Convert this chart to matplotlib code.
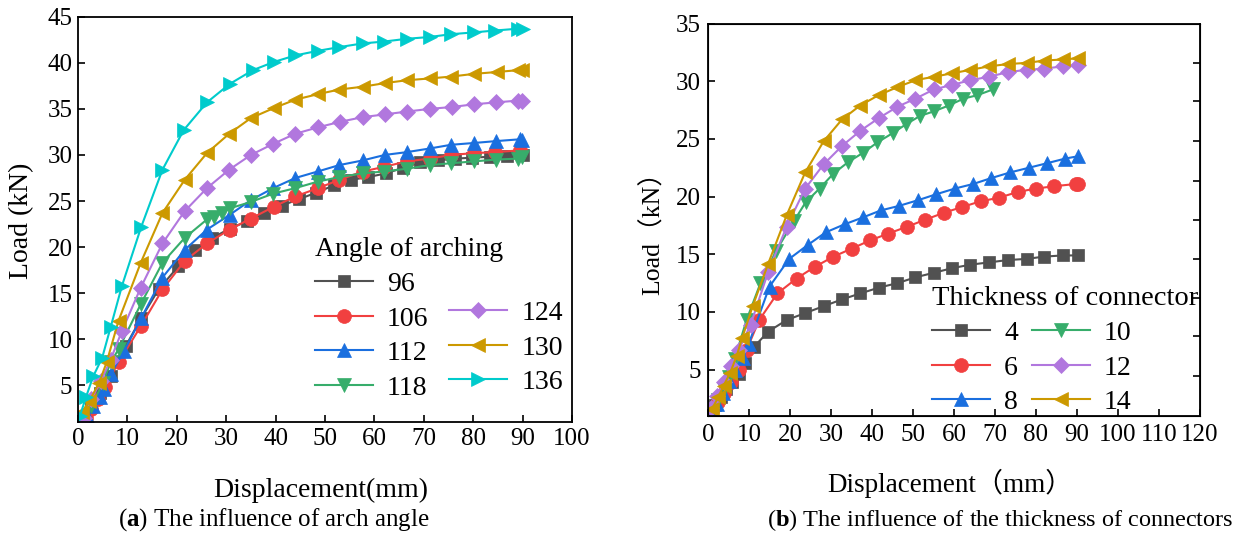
import matplotlib
matplotlib.use("Agg")
import matplotlib.pyplot as plt

plt.rcParams["font.family"] = ["Liberation Serif", "Noto Sans CJK SC"]
plt.rcParams["mathtext.fontset"] = "custom"
plt.rcParams["mathtext.rm"] = "Liberation Serif"
plt.rcParams["mathtext.bf"] = "Liberation Serif:bold"

# ---- (a) load-displacement for different arch angles ----
angle_labels = ["96", "106", "112", "118", "124", "130", "136"]

x_96 = [0.5, 1.2, 2.7, 4.4, 6.6, 9.7, 12.8, 16.3, 20.3, 23.7, 27.2, 30.7, 34.2, 37.7, 41.2,
        44.7, 48.2, 51.8, 55.3, 58.8, 62.3, 65.8, 69.3, 72.8, 76.3, 79.8, 83.3, 86.8, 90.0]
y_96 = [1.0, 1.5, 2.8, 4.2, 6.0, 9.3, 12.3, 15.4, 17.9, 19.7, 21.0, 22.0, 22.8, 23.7, 24.5,
        25.2, 25.9, 26.7, 27.3, 27.6, 28.0, 28.6, 29.2, 29.4, 29.6, 29.7, 29.8, 29.9, 30.0]

x_106 = [0.4, 1.6, 2.7, 4.1, 5.4, 8.2, 12.7, 17.1, 21.6, 26.1, 30.7, 35.0, 39.7, 44.0, 48.6,
         52.9, 57.6, 61.9, 66.5, 71.2, 75.5, 80.2, 84.4, 89.5]
y_106 = [1.1, 1.5, 2.4, 3.5, 4.8, 7.5, 11.4, 15.4, 18.5, 20.4, 21.9, 23.1, 24.4, 25.5, 26.4,
         27.3, 28.2, 28.7, 29.3, 29.6, 30.0, 30.2, 30.3, 30.5]

x_112 = [0.5, 1.8, 3.1, 4.4, 5.2, 6.6, 9.3, 12.8, 17.1, 21.6, 26.1, 30.7, 35.0, 39.5, 44.0,
         48.5, 52.9, 57.6, 62.1, 66.5, 71.2, 75.5, 80.2, 84.6, 89.5, 89.9]
y_112 = [1.1, 1.7, 2.8, 3.7, 4.6, 6.2, 8.7, 12.3, 16.7, 19.7, 21.9, 23.5, 25.1, 26.4, 27.5,
         28.2, 28.9, 29.4, 30.0, 30.3, 30.7, 31.1, 31.3, 31.5, 31.7, 31.6]

x_118 = [0.8, 2.7, 5.1, 6.6, 8.2, 12.7, 17.1, 21.6, 26.1, 27.6, 29.2, 30.7, 35.0, 39.5, 44.0,
         48.5, 52.9, 57.6, 61.9, 66.5, 71.2, 75.5, 80.2, 84.6, 89.1, 89.9]
y_118 = [1.4, 2.8, 5.3, 7.5, 8.9, 13.8, 18.3, 21.0, 23.0, 23.3, 23.7, 24.2, 24.9, 25.8, 26.4,
         27.1, 27.6, 28.0, 28.2, 28.5, 28.9, 29.1, 29.3, 29.5, 29.6, 29.8]

x_124 = [1.2, 2.7, 4.7, 6.6, 8.9, 12.7, 17.1, 21.6, 26.1, 30.6, 35.0, 39.5, 44.0, 48.6, 53.1,
         57.6, 62.1, 66.5, 71.2, 75.7, 80.2, 84.6, 89.1, 89.9]
y_124 = [1.5, 3.5, 5.5, 7.8, 10.9, 15.6, 20.4, 23.9, 26.4, 28.4, 30.0, 31.2, 32.3, 33.0, 33.6,
         34.1, 34.4, 34.7, 35.0, 35.2, 35.5, 35.7, 35.9, 35.9]

x_130 = [0.8, 2.3, 4.3, 5.8, 8.2, 12.7, 17.1, 21.6, 26.1, 30.6, 35.0, 39.7, 44.0, 48.6, 52.9,
         57.6, 62.2, 66.5, 71.2, 75.5, 80.2, 84.8, 89.1, 89.9]
y_130 = [2.1, 3.3, 5.3, 7.5, 12.0, 18.3, 23.7, 27.3, 30.2, 32.3, 34.0, 35.1, 36.0, 36.6, 37.1,
         37.4, 37.8, 38.1, 38.3, 38.5, 38.8, 39.0, 39.2, 39.2]

x_136 = [0.4, 1.6, 3.1, 4.9, 6.6, 8.9, 12.8, 17.1, 21.4, 26.1, 30.7, 35.4, 39.7, 44.0, 48.6,
         52.9, 57.6, 61.9, 66.5, 71.2, 75.5, 80.2, 84.4, 89.1, 90.0]
y_136 = [1.7, 3.7, 6.0, 8.0, 11.3, 15.8, 22.2, 28.4, 32.7, 35.7, 37.7, 39.2, 40.1, 40.8, 41.3,
         41.7, 42.1, 42.3, 42.6, 42.8, 43.1, 43.3, 43.5, 43.7, 43.7]

# ---- (b) load-displacement for different connector thicknesses ----
thick_labels = ["4", "6", "8", "10", "12", "14"]

x_t4 = [0.6, 1.7, 3.2, 4.4, 5.8, 7.5, 9.0, 11.3, 14.7, 19.2, 23.7, 28.2, 32.8, 37.1, 41.6,
        46.2, 50.6, 55.1, 59.6, 64.0, 68.6, 73.1, 77.7, 82.0, 86.5, 90.2]
y_t4 = [1.3, 1.9, 2.6, 3.3, 3.9, 4.6, 5.6, 7.0, 8.3, 9.3, 9.9, 10.5, 11.1, 11.6, 12.1,
        12.5, 13.0, 13.4, 13.8, 14.1, 14.3, 14.5, 14.6, 14.8, 14.9, 14.9]

x_t6 = [1.0, 2.5, 3.9, 5.6, 7.5, 9.4, 12.5, 16.9, 21.6, 26.0, 30.6, 35.1, 39.5, 44.0, 48.6,
        53.0, 57.5, 62.0, 66.5, 70.9, 75.5, 79.9, 84.4, 89.7, 90.2]
y_t6 = [1.4, 2.2, 3.0, 3.9, 5.0, 6.7, 9.3, 11.6, 12.9, 13.9, 14.8, 15.5, 16.2, 16.8, 17.4,
        18.0, 18.6, 19.1, 19.6, 19.9, 20.4, 20.7, 20.9, 21.1, 21.1]

x_t8 = [0.6, 2.2, 3.7, 5.1, 6.7, 8.5, 9.9, 15.0, 19.8, 24.3, 28.7, 33.3, 37.8, 42.1, 46.6,
        51.3, 55.6, 60.2, 64.7, 69.0, 73.7, 78.2, 82.7, 87.1, 90.2]
y_t8 = [1.3, 2.0, 3.0, 4.0, 5.0, 6.0, 7.2, 12.2, 14.6, 15.8, 16.9, 17.6, 18.2, 18.8, 19.2,
        19.7, 20.2, 20.7, 21.1, 21.6, 22.1, 22.5, 22.9, 23.3, 23.5]

x_t10 = [0.8, 2.5, 3.8, 5.1, 6.5, 9.4, 12.8, 16.6, 21.0, 23.8, 27.2, 30.6, 34.2, 37.8, 41.3,
         45.0, 48.4, 51.7, 55.1, 58.7, 62.3, 65.7, 69.5]
y_t10 = [1.6, 2.4, 3.3, 4.4, 5.9, 9.3, 12.5, 15.3, 17.9, 19.5, 20.7, 22.0, 23.0, 23.8, 24.7,
         25.5, 26.3, 27.0, 27.4, 27.9, 28.5, 28.8, 29.3]

x_t12 = [0.8, 2.2, 3.8, 5.6, 7.5, 10.4, 14.7, 19.2, 23.7, 28.2, 32.7, 37.1, 41.6, 46.2, 50.6,
         55.1, 59.6, 64.0, 68.6, 73.1, 77.7, 82.0, 86.5, 90.2]
y_t12 = [1.7, 2.7, 3.9, 5.3, 6.7, 8.9, 13.5, 17.4, 20.7, 22.8, 24.4, 25.7, 26.8, 27.8, 28.5,
         29.3, 29.7, 30.1, 30.4, 30.8, 31.0, 31.1, 31.3, 31.4]

x_t14 = [1.0, 2.5, 3.8, 5.4, 7.0, 8.3, 10.9, 14.7, 19.2, 23.7, 28.2, 32.7, 37.1, 41.6, 46.2,
         50.6, 55.1, 59.6, 64.0, 68.6, 73.1, 77.7, 82.0, 86.5, 90.2]
y_t14 = [1.6, 2.6, 3.6, 4.7, 6.2, 7.7, 10.5, 14.2, 18.4, 22.1, 24.8, 26.7, 27.9, 28.8, 29.5,
         30.1, 30.4, 30.7, 31.0, 31.3, 31.5, 31.6, 31.8, 31.9, 32.0]

# tick marks on the right spine of panel (b)
right_ticks_b = [4.45, 7.9, 11.25, 14.6, 18.0, 21.4, 24.8, 28.3, 31.6]

colors = ["#515151", "#F14040", "#1A6FDF", "#37AD6B", "#B177DE", "#CC9900", "#00CBCC"]
markers = ["s", "o", "^", "v", "D", "<", ">"]
msizes = [9, 10, 10, 10, 8, 10, 10]

angle_x = [x_96, x_106, x_112, x_118, x_124, x_130, x_136]
angle_y = [y_96, y_106, y_112, y_118, y_124, y_130, y_136]
thick_x = [x_t4, x_t6, x_t8, x_t10, x_t12, x_t14]
thick_y = [y_t4, y_t6, y_t8, y_t10, y_t12, y_t14]

W, H = 1237, 544
fig = plt.figure(figsize=(W / 100, H / 100), dpi=100)

ax1 = fig.add_axes([78 / W, 1 - 422.2 / H, 494 / W, 405.5 / H])
ax2 = fig.add_axes([708 / W, 1 - 415.7 / H, 492 / W, 392 / H])


def style_axes(ax, xpad, ypad):
    for s in ax.spines.values():
        s.set_linewidth(1.3)
    ax.tick_params(direction="in", length=5, width=1.2, labelsize=18, top=False, right=False)
    ax.tick_params(axis="x", pad=xpad)
    ax.tick_params(axis="y", pad=ypad)


h1 = []
for xs, ys, c, m, ms in zip(angle_x, angle_y, colors, markers, msizes):
    ln, = ax1.plot(xs, ys, color=c, marker=m, markersize=ms, linewidth=1.5,
                   markeredgewidth=0.5)
    h1.append(ln)
ax1.set_xlim(0, 100)
ax1.set_ylim(1, 45)
ax1.set_xticks(range(0, 101, 10))
ax1.set_yticks(range(5, 46, 5))
style_axes(ax1, 4, 4)

leg_kw = dict(frameon=False, fontsize=20, handlelength=2.1, handletextpad=0.5,
              labelspacing=0.33, borderpad=0, borderaxespad=0, loc="upper left")
leg_a1 = ax1.legend(h1[:4], angle_labels[:4], title="Angle of arching", title_fontsize=20,
                    alignment="left", bbox_to_anchor=(0.479, 0.456), **leg_kw)
ax1.add_artist(leg_a1)
ax1.legend(h1[4:], angle_labels[4:], bbox_to_anchor=(0.751, 0.30), **leg_kw)

h2 = []
for xs, ys, c, m, ms in zip(thick_x, thick_y, colors, markers, msizes):
    ln, = ax2.plot(xs, ys, color=c, marker=m, markersize=ms, linewidth=1.5,
                   markeredgewidth=0.5)
    h2.append(ln)
ax2.set_xlim(0, 120)
ax2.set_ylim(1, 35)
ax2.set_xticks(range(0, 121, 10))
ax2.set_yticks(range(5, 36, 5))
style_axes(ax2, 6, 5)

ax2r = ax2.twinx()
ax2r.set_ylim(1, 35)
ax2r.set_yticks(right_ticks_b)
ax2r.tick_params(direction="in", length=5, width=1.2, labelright=False)

ax2.legend(h2, thick_labels, ncol=2, title="Thickness of connector", title_fontsize=20.5,
           alignment="left", columnspacing=0.5, bbox_to_anchor=(0.455, 0.33), **leg_kw)

# axis labels and captions
fig.text(22 / W, 1 - 221 / H, "Load (kN)", rotation=90, fontsize=20, ha="center", va="center")
fig.text(321 / W, 1 - 490 / H, "Displacement(mm)", fontsize=20, ha="center", va="center")
fig.text(653 / W, 1 - 227 / H, "Load（kN）", rotation=90, fontsize=18.5, ha="center", va="center")
fig.text(950 / W, 1 - 483 / H, "Displacement（mm）", fontsize=19.5, ha="center", va="center")

fig.text(274 / W, 1 - 520 / H, r"($\mathbf{a}$) The influence of arch angle",
         fontsize=18, ha="center", va="center")
fig.text(1233 / W, 1 - 520 / H, r"($\mathbf{b}$) The influence of the thickness of connectors",
         fontsize=17.5, ha="right", va="center")

fig.savefig("out.png", dpi=100)
